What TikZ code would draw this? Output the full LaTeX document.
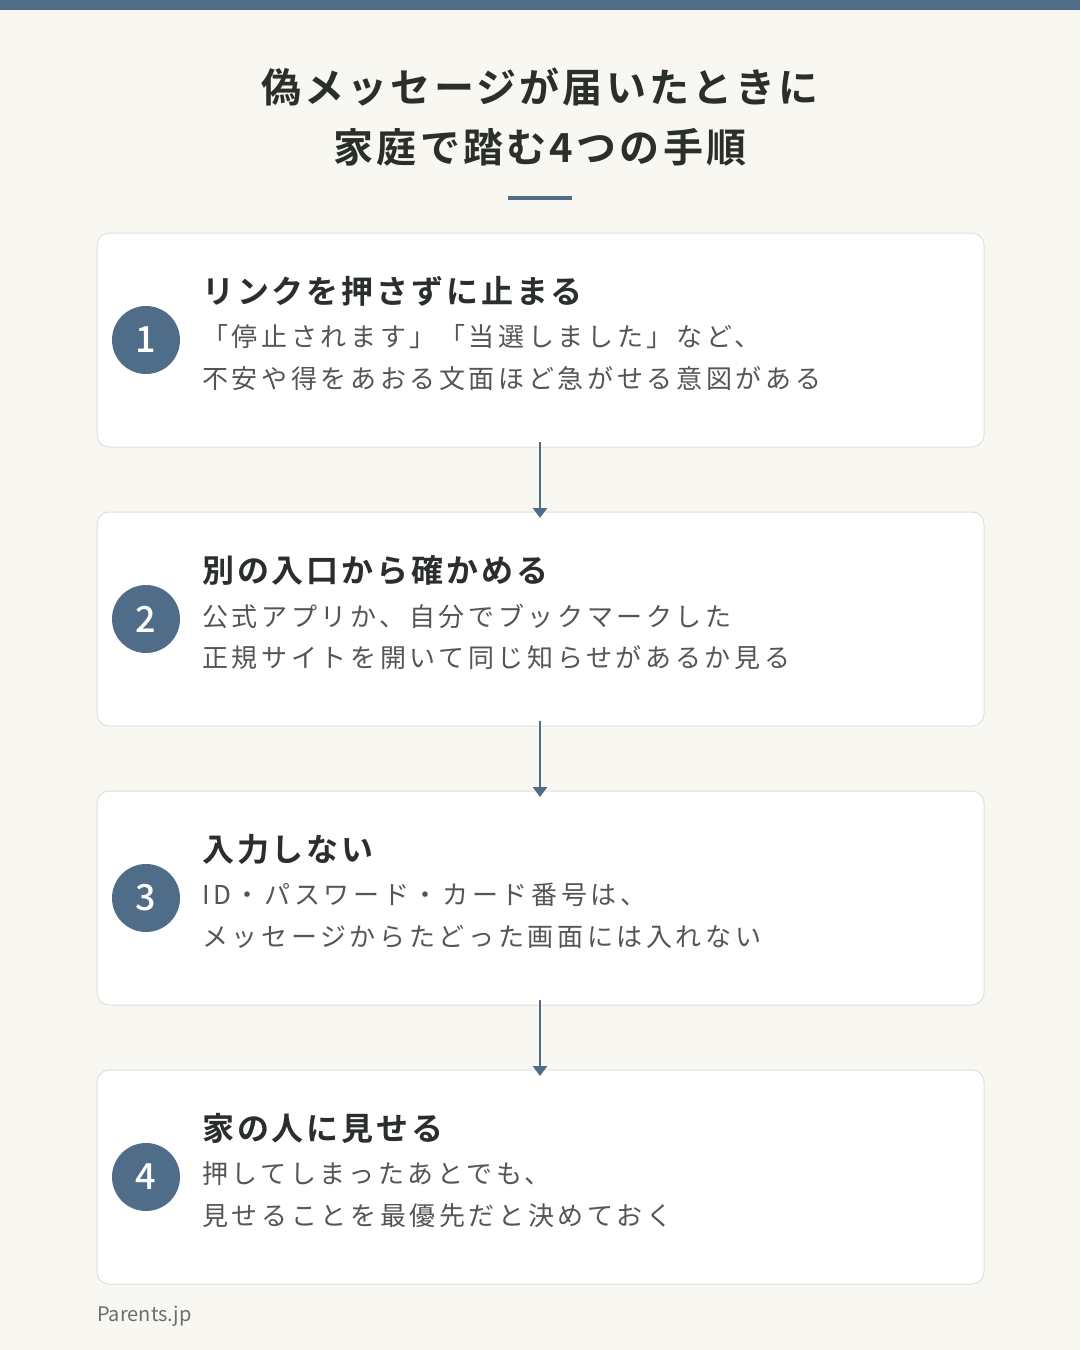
\documentclass[tikz,border=0pt]{standalone}
\usepackage{fontspec}
\setmainfont{Noto Sans CJK JP}
\newfontfamily\titlef{Noto Sans CJK JP Bold}[LetterSpace=8]
\newfontfamily\headf{Noto Sans CJK JP Bold}[LetterSpace=9]
\newfontfamily\bodyf{Noto Sans CJK JP}[LetterSpace=14]
\newfontfamily\numf{Noto Sans CJK JP Medium}
\definecolor{bg}{HTML}{F8F7F2}
\definecolor{acc}{HTML}{4F6D88}
\definecolor{ink}{HTML}{2A2F2B}
\definecolor{body}{HTML}{555555}
\definecolor{edge}{HTML}{E2E0DA}
\usetikzlibrary{arrows.meta}
\begin{document}
\begin{tikzpicture}[x=1pt,y=-1pt,
 card/.style={draw=edge,line width=1pt,fill=white,rounded corners=12pt},
 num/.style={circle,fill=acc,minimum size=68pt,inner sep=0,text=white,font=\numf\fontsize{36}{36}\selectfont},
 head/.style={anchor=west,inner sep=0,text=ink,font=\headf\fontsize{32}{32}\selectfont},
 txt/.style={anchor=west,inner sep=0,text=body,font=\bodyf\fontsize{26}{26}\selectfont},
 arr/.style={draw=acc,line width=2.5pt,-{Triangle[length=10pt,width=14pt]}}]
\fill[bg] (0,0) rectangle (1080,1350);
\fill[acc] (0,0) rectangle (1080,10);
\node[inner sep=0,text=ink,font=\titlef\fontsize{40}{40}\selectfont] (t1) at (540,87) {偽メッセージが届いたときに};
\node[inner sep=0,text=ink,font=\titlef\fontsize{40}{40}\selectfont] (t2) at (540,147) {家庭で踏む4つの手順};
\draw[acc,line width=4pt] (508,198) -- (572,198);
\foreach \i/\y/\h/\a/\b in {
 1/233/リンクを押さずに止まる/「停止されます」「当選しました」など、/不安や得をあおる文面ほど急がせる意図がある,
 2/512/別の入口から確かめる/公式アプリか、自分でブックマークした/正規サイトを開いて同じ知らせがあるか見る,
 3/791/入力しない/ID・パスワード・カード番号は、/メッセージからたどった画面には入れない,
 4/1070/家の人に見せる/押してしまったあとでも、/見せることを最優先だと決めておく}{
 \draw[card] (97,\y) rectangle (984,\y+214);
 \coordinate (c\i) at (540,\y);
 \coordinate (d\i) at (540,\y+214);
 \node[num] (n\i) at (146,\y+107) {\i};
 \node[head] (h\i) at (202,\y+58) {\h};
 \node[txt] (a\i) at (202,\y+104) {\a};
 \node[txt] (b\i) at (202,\y+146) {\b};
}
\draw[arr] ([yshift=5pt]d1) -- ([yshift=-6pt]c2);
\draw[arr] ([yshift=5pt]d2) -- ([yshift=-6pt]c3);
\draw[arr] ([yshift=5pt]d3) -- ([yshift=-6pt]c4);
\node[anchor=west,inner sep=0,text=body!85,font=\fontsize{20}{20}\selectfont] (f) at (97,1316) {Parents.jp};
\end{tikzpicture}
\end{document}
